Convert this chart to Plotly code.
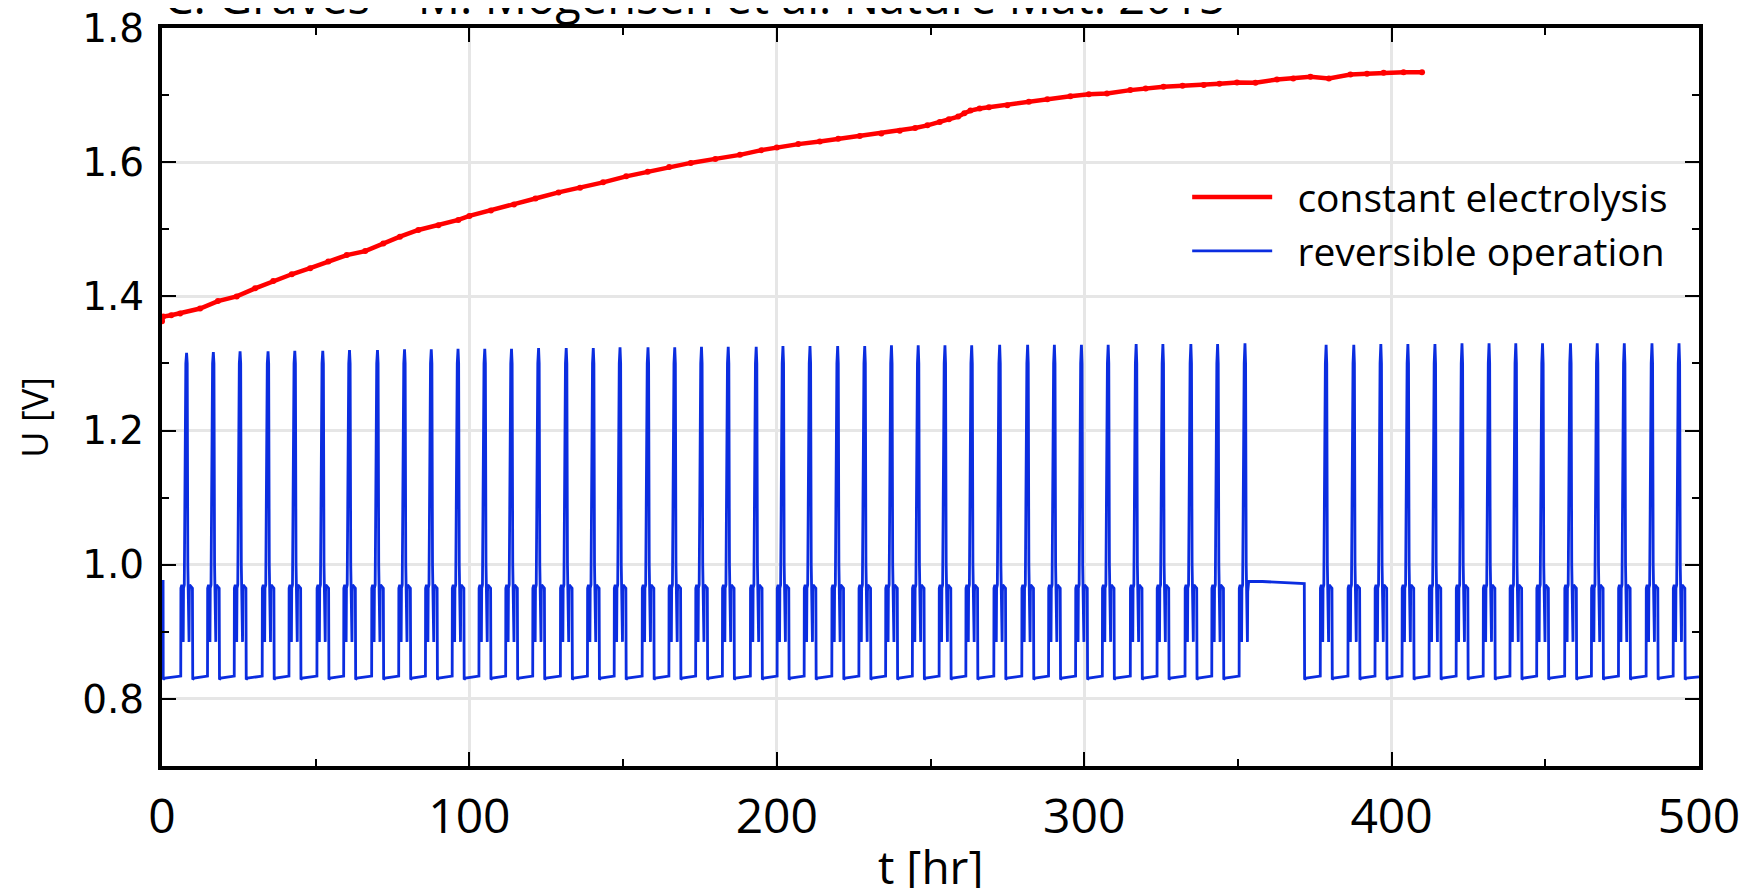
import plotly.graph_objects as go

# ---------------- data ----------------
# constant electrolysis (red)
red_t = [0.0, 0.4, 3.0, 5.9, 12.4, 18.2, 24.3, 30.3, 36.2, 42.2, 48.2, 54.1, 60.1, 66.1,
         72.0, 77.4, 83.4, 89.9, 96.4, 100.0, 107.0, 114.5, 121.5, 129.0, 136.0, 143.5,
         151.0, 158.0, 165.0, 172.0, 180.0, 188.0, 195.0, 200.0, 207.0, 214.0, 220.0,
         227.0, 234.0, 240.0, 245.0, 249.0, 253.0, 256.0, 259.0, 261.0, 263.0, 266.0,
         269.0, 275.0, 282.0, 288.0, 295.5, 301.5, 307.4, 315.0, 320.0, 325.8, 332.0,
         338.9, 344.0, 349.7, 355.7, 362.7, 368.0, 373.6, 379.6, 386.6, 392.0, 397.4,
         403.9, 409.9]
red_v = [1.363, 1.370, 1.372, 1.3747, 1.382, 1.393, 1.400, 1.412, 1.423, 1.433, 1.442,
         1.452, 1.4616, 1.4675, 1.479, 1.489, 1.499, 1.506, 1.514, 1.520, 1.528, 1.537,
         1.546, 1.555, 1.562, 1.570, 1.579, 1.586, 1.593, 1.599, 1.605, 1.611, 1.618,
         1.622, 1.627, 1.631, 1.635, 1.639, 1.643, 1.647, 1.651, 1.655, 1.660, 1.664,
         1.668, 1.673, 1.677, 1.680, 1.682, 1.685, 1.690, 1.694, 1.6985, 1.7015, 1.7025,
         1.7075, 1.710, 1.7124, 1.714, 1.715, 1.717, 1.719, 1.7184, 1.7234, 1.725,
         1.7273, 1.725, 1.7309, 1.732, 1.7333, 1.7343, 1.7343]

# reversible operation (blue): cycle peak times [hr] and peak voltages [V]
peak_t = [8.0, 16.7, 25.4, 34.5, 43.2, 52.3, 61.0, 70.1, 78.9, 87.6, 96.3, 105.0, 113.7,
          122.5, 131.5, 140.3, 149.0, 158.1, 166.8, 175.5, 184.2, 193.3, 202.0, 210.8,
          219.8, 228.6, 237.3, 246.0, 254.7, 263.4, 272.5, 281.6, 290.3, 299.1, 307.8,
          316.9, 325.6, 334.7, 343.4, 352.3,
          378.7, 387.7, 396.5, 405.3, 414.1, 422.9, 431.7, 440.4, 449.1, 458.2, 466.9,
          475.7, 484.7, 493.5]
peak_v = [1.316, 1.317, 1.318, 1.318, 1.319, 1.319, 1.320, 1.320, 1.321, 1.321, 1.322,
          1.322, 1.322, 1.323, 1.323, 1.323, 1.324, 1.324, 1.324, 1.325, 1.325, 1.325,
          1.326, 1.326, 1.326, 1.326, 1.327, 1.327, 1.327, 1.327, 1.328, 1.328, 1.328,
          1.328, 1.328, 1.329, 1.329, 1.329, 1.329, 1.330,
          1.328, 1.328, 1.329, 1.329, 1.329, 1.330, 1.330, 1.330, 1.330, 1.330, 1.330,
          1.330, 1.330, 1.330]
# shape of one cycle around its peak (offset hr, voltage); None = peak value
cycle_dt = [-1.90, -1.85, -1.55, -1.20, -1.10, -1.00, -0.75, -0.50, -0.25, 0.00,
            0.20, 0.40, 0.50, 0.70, 0.80, 0.90, 1.00, 1.90, 2.00, 2.40]
cycle_v = [0.834, 0.965, 0.970, 0.965, 0.885, 0.965, 0.970, 1.200, 1.300, None,
           1.300, 1.000, 0.965, 0.950, 0.885, 0.960, 0.970, 0.965, 0.829, 0.831]
# start, pause (open-circuit plateau) and end segments
start_t = [0.0, 0.35, 0.40, 1.0]
start_v = [0.975, 0.975, 0.829, 0.831]
pause_t = [353.5, 358.0, 362.0, 366.0, 371.6, 371.7, 372.2]
pause_v = [0.975, 0.975, 0.974, 0.973, 0.972, 0.829, 0.831]
end_t = [500.0]
end_v = [0.833]

x_ticks = [0, 100, 200, 300, 400, 500]
y_ticks = [0.8, 1.0, 1.2, 1.4, 1.6, 1.8]

# ---------------- build blue series ----------------
blue_t, blue_v = list(start_t), list(start_v)
for i, (tp, vp) in enumerate(zip(peak_t, peak_v)):
    pre_pause = (i == 39)
    for dt, v in zip(cycle_dt, cycle_v):
        if pre_pause and dt > 1.0:
            break
        blue_t.append(tp + dt)
        blue_v.append(vp if v is None else v)
    if pre_pause:
        blue_t += pause_t
        blue_v += pause_v
blue_t += end_t
blue_v += end_v

RED = "#ff0000"
BLUE = "#0b2de0"
NB = "\u00a0\u00a0"

fig = go.Figure()
fig.add_trace(go.Scatter(
    x=blue_t, y=blue_v, mode="lines", name=NB + "reversible operation",
    legendgroup="b", legendrank=2,
    line=dict(color=BLUE, width=2.8)))
fig.add_trace(go.Scatter(
    x=red_t, y=red_v, mode="lines+markers", showlegend=False,
    line=dict(color=RED, width=4.5), marker=dict(color=RED, size=6)))
fig.add_trace(go.Scatter(
    x=[None], y=[None], mode="lines", name=NB + "constant electrolysis",
    legendgroup="a", legendrank=1,
    line=dict(color=RED, width=4.5)))

axis_common = dict(
    showline=True, linecolor="black", linewidth=4, mirror="allticks",
    ticks="inside", ticklen=14, tickwidth=2, tickcolor="black",
    showgrid=True, gridcolor="#e6e6e6", gridwidth=3, zeroline=False,
    automargin=False, ticklabeloverflow="allow",
)

# the page body adds an 8 px offset; margins below compensate for it
fig.update_layout(
    width=1751, height=888,
    paper_bgcolor="white", plot_bgcolor="white",
    margin=dict(l=154, r=60, t=20, b=130, autoexpand=False),
    font=dict(family="Open Sans", color="black"),
    xaxis=dict(range=[0, 500], tickvals=x_ticks, ticktext=[str(v) for v in x_ticks],
               tickfont=dict(size=48, family="Open Sans"), ticklabelstandoff=5,
               minor=dict(dtick=50, ticks="inside", ticklen=7, tickwidth=2,
                          tickcolor="black", showgrid=False),
               **axis_common),
    yaxis=dict(range=[0.7, 1.8001], tickvals=y_ticks, ticktext=[f"{v:.1f}" for v in y_ticks],
               tickfont=dict(size=39, family="DejaVu Sans"), ticklabelstandoff=6,
               minor=dict(dtick=0.1, ticks="inside", ticklen=7, tickwidth=2,
                          tickcolor="black", showgrid=False),
               **axis_common),
    legend=dict(x=0.667, y=0.814, xanchor="left", yanchor="top",
                bgcolor="rgba(0,0,0,0)", font=dict(size=39, family="Open Sans"),
                itemwidth=80, tracegroupgap=0),
    showlegend=True,
    annotations=[
        dict(text="C. Graves \u2013 M. Mogensen et al. Nature Mat. 2015",
             xref="paper", yref="paper", x=0, y=1, xanchor="left", yanchor="bottom",
             yshift=-2, showarrow=False,
             font=dict(size=47, family="Open Sans", color="black")),
        dict(text="U [V]", xref="paper", yref="paper", x=0, y=0.472,
             xanchor="center", yanchor="middle", xshift=-127, textangle=-90,
             showarrow=False, font=dict(size=36, family="Open Sans", color="black")),
        dict(text="t [hr]", xref="paper", yref="paper", x=0.5, y=0,
             xanchor="center", yanchor="middle", yshift=-100,
             showarrow=False, font=dict(size=46, family="Open Sans", color="black")),
    ],
)

fig.write_html("out.html")
